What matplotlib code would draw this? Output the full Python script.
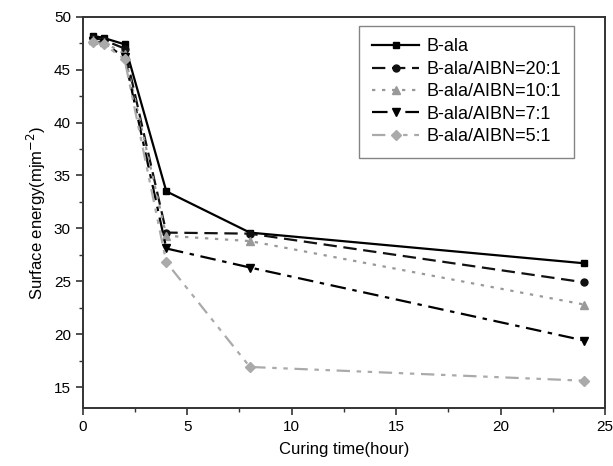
import matplotlib
matplotlib.use("Agg")
import matplotlib.pyplot as plt
from matplotlib.ticker import MultipleLocator

# curing time (hour)
hours = [0.5, 1, 2, 4, 8, 24]

# surface energy
b_ala = [48.2, 48.0, 47.4, 33.5, 29.6, 26.7]
aibn_20 = [48.0, 47.8, 47.0, 29.6, 29.5, 24.9]
aibn_10 = [47.8, 47.6, 46.5, 29.3, 28.8, 22.8]
aibn_7 = [47.7, 47.5, 46.2, 28.1, 26.3, 19.4]
aibn_5 = [47.6, 47.4, 46.0, 26.8, 16.9, 15.6]

labels = ["B-ala", "B-ala/AIBN=20:1", "B-ala/AIBN=10:1", "B-ala/AIBN=7:1", "B-ala/AIBN=5:1"]

plt.rcParams['font.family'] = ['Liberation Sans', 'DejaVu Sans']

fig = plt.figure(figsize=(6.13, 4.66), dpi=100)
ax = fig.add_axes([0.135, 0.124, 0.852, 0.840])

ax.plot(hours, b_ala, color='black', ls='-', lw=1.6, marker='s', ms=5, label=labels[0])
ax.plot(hours, aibn_20, color='#111111', ls=(0, (6, 3)), lw=1.6, marker='o', ms=5, label=labels[1])
ax.plot(hours, aibn_10, color='#999999', ls=(0, (1.5, 3)), lw=1.6, marker='^', ms=6, label=labels[2])
ax.plot(hours, aibn_7, color='black', ls=(0, (7, 3, 2, 3)), lw=1.6, marker='v', ms=6, label=labels[3])
ax.plot(hours, aibn_5, color='#aaaaaa', ls=(0, (6, 3, 2, 3, 2, 3)), lw=1.6, marker='D', ms=5, label=labels[4])

ax.set_xlim(0, 25)
ax.set_ylim(13, 50)
ax.xaxis.set_major_locator(MultipleLocator(5))
ax.xaxis.set_minor_locator(MultipleLocator(2.5))
ax.yaxis.set_major_locator(MultipleLocator(5))
ax.yaxis.set_minor_locator(MultipleLocator(2.5))
ax.tick_params(which='major', direction='out', length=5, width=1.2, labelsize=11, color='#333333')
ax.tick_params(which='minor', direction='out', length=3, width=1.0, color='#333333')

for s in ax.spines.values():
    s.set_linewidth(1.4)
    s.set_color('#333333')

ax.set_xlabel('Curing time(hour)', fontsize=12, labelpad=6)
ax.set_ylabel('Surface energy(mjm$^{-2}$)', fontsize=12)

leg = ax.legend(loc='upper right', bbox_to_anchor=(0.957, 1.0), fontsize=13,
                frameon=True, fancybox=False, edgecolor='#666666',
                handlelength=2.6, handletextpad=0.4, borderpad=0.7, labelspacing=0.3)
leg.get_frame().set_linewidth(1.0)

fig.savefig('out.png', dpi=100)
